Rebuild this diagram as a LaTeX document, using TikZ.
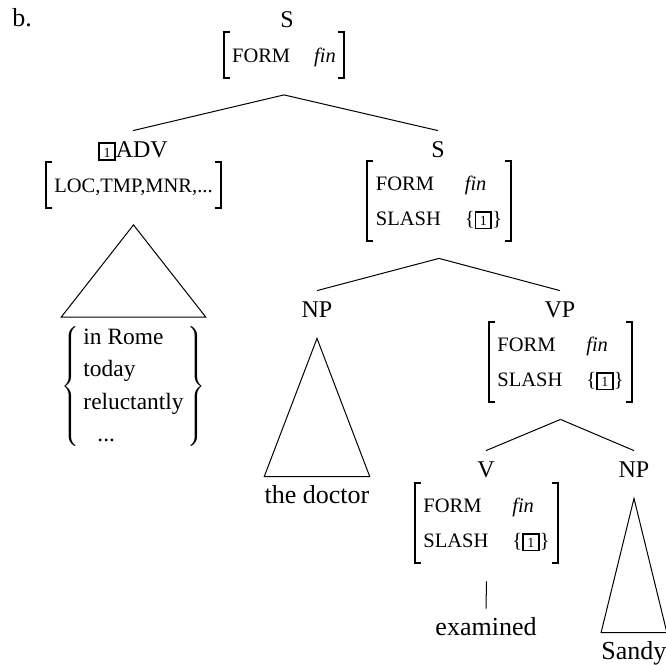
\documentclass[tikz,border=0pt]{standalone}
\usepackage{fontspec}
\setmainfont{Liberation Serif}
\setlength\fboxsep{1pt}
\setlength\fboxrule{0.9pt}
\newcommand\tagone{\fbox{\makebox[5pt]{\rule{0pt}{5.5pt}\fontsize{7}{7}\selectfont 1}}}
\def\fgap{12pt}

\begin{document}
\begin{tikzpicture}[x=0.5pt,y=-0.5pt]
    \tikzstyle{cat}=[font=\fontsize{12}{13}\selectfont,inner sep=0pt,text height=7pt,text depth=0pt,anchor=base]
    \tikzstyle{avm}=[font=\fontsize{10.25}{17.5}\selectfont,inner xsep=4pt,inner ysep=2.5pt]
    \tikzstyle{leaf}=[font=\fontsize{13}{14}\selectfont,inner xsep=0pt,inner ysep=4pt,anchor=base]
    \tikzstyle{branch}=[line width=0.5pt]
    \tikzstyle{bracket}=[line width=1pt]

    \useasboundingbox (0,0) rectangle (666,665);
    \node[leaf,anchor=base west] (label) at (12,26) {b.};

    \node[cat] (S-top) at (287,27) {S};
    \node[avm] (S-top-avm) at (284,55) {\begin{tabular}{@{}l@{\hspace{\fgap}}l@{}}FORM & \textit{fin}\end{tabular}};

    \node[cat] (ADV) at (133,157) {\tagone ADV};
    \node[avm] (ADV-avm) at (133.5,185) {\begin{tabular}{@{}l@{}}LOC,TMP,MNR,...\end{tabular}};
    \node[inner xsep=0pt,inner ysep=2pt,anchor=north,font=\fontsize{11.7}{16.25}\selectfont] (ADV-list) at (133.5,317)
        {$\left\{\,\begin{tabular}{@{}l@{}}in Rome\\today\\reluctantly\\\hspace{7pt}...\end{tabular}\,\right\}$};

    \node[cat] (S-sub) at (438,157) {S};
    \node[avm] (S-sub-avm) at (439,201) {\begin{tabular}{@{}l@{\hspace{\fgap}}l@{}}FORM & \textit{fin}\\SLASH & \{\tagone\}\end{tabular}};

    \node[cat] (NP-subj) at (317,317) {NP};
    \node[leaf] (doctor) at (317,503) {the doctor};

    \node[cat] (VP) at (560,317) {VP};
    \node[avm] (VP-avm) at (560.5,362) {\begin{tabular}{@{}l@{\hspace{\fgap}}l@{}}FORM & \textit{fin}\\SLASH & \{\tagone\}\end{tabular}};

    \node[cat] (V) at (486,477) {V};
    \node[avm] (V-avm) at (486.5,523) {\begin{tabular}{@{}l@{\hspace{\fgap}}l@{}}FORM & \textit{fin}\\SLASH & \{\tagone\}\end{tabular}};
    \node[leaf] (examined) at (486,635) {examined};

    \node[cat] (NP-obj) at (634,477) {NP};
    \node[leaf] (Sandy) at (634,659) {Sandy};

    \coordinate (ADV-tip) at ([yshift=-8.5pt]ADV-avm.south);
    \coordinate (NP-subj-tip) at ([yshift=-10.5pt]NP-subj.south);
    \coordinate (NP-obj-tip) at ([yshift=-10.5pt]NP-obj.south);

    \foreach \mother/\daughter in {S-top-avm/ADV,S-top-avm/S-sub,S-sub-avm/NP-subj,S-sub-avm/VP,VP-avm/V,VP-avm/NP-obj}
        \draw[branch] ([yshift=-8.5pt]\mother.south) -- ([yshift=6pt]\daughter.north);
    \draw[branch] ([yshift=-9pt]V-avm.south) -- (examined.north);

    \foreach \tip/\leaf in {ADV-tip/ADV-list,NP-subj-tip/doctor,NP-obj-tip/Sandy}
        \draw[branch] (\leaf.north west) -- (\tip) -- (\leaf.north east) -- cycle;

    \foreach \n in {S-top-avm,ADV-avm,S-sub-avm,VP-avm,V-avm}{
        \draw[bracket] ([xshift=3pt]\n.north west) -- (\n.north west) -- (\n.south west) -- ++(3pt,0);
        \draw[bracket] ([xshift=-3pt]\n.north east) -- (\n.north east) -- (\n.south east) -- ++(-3pt,0);
    }
\end{tikzpicture}
\end{document}
